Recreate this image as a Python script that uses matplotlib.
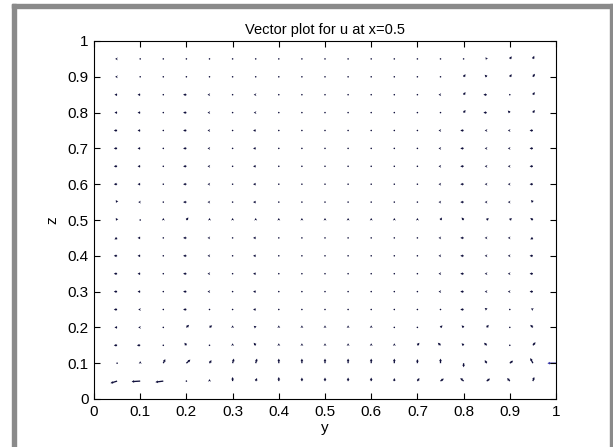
import numpy as np
import matplotlib.pyplot as plt
from matplotlib.patches import Rectangle

plt.rcParams['font.family'] = ['Liberation Sans', 'DejaVu Sans']

# Сетка точек (y, z)
y_pts = [0.05, 0.10, 0.15, 0.20, 0.25, 0.30, 0.35, 0.40, 0.45, 0.50,
         0.55, 0.60, 0.65, 0.70, 0.75, 0.80, 0.85, 0.90, 0.95]
z_pts = [0.05, 0.10, 0.15, 0.20, 0.25, 0.30, 0.35, 0.40, 0.45, 0.50,
         0.55, 0.60, 0.65, 0.70, 0.75, 0.80, 0.85, 0.90, 0.95]

# Компоненты вектора (в тысячных долях единицы оси), строки снизу вверх по z
U_rows = [
    [-10, -13, -12, 0, 0, 0, 2, 0, 0, 0, 0, 0, 0, 3, 5, -5, 5, -4, 2],     # z=0.05
    [0, 0, 3, 6, 3, 2, 2, 0, 0, 0, 0, 0, 0, 0, 0, 0, -3, 5, -4],           # z=0.10
    [-5, -5, 0, -3, 0, 0, -3, 0, 0, 0, 0, 0, 0, 3, -4, -3, -4, 0, 4],      # z=0.15
    [-4, -3, 0, 4, 4, 0, -3, 0, 0, 0, 0, 0, 0, 0, 3, -3, 3, 0, -4],        # z=0.20
    [-5, -3, 0, -5, 0, 0, -4, 0, 0, 0, 0, 0, 0, 0, 0, -5, -3, 0, -3],      # z=0.25
    [-5, -4, 0, -5, -3, 0, -4, 0, 0, 0, 0, 0, 0, 0, -3, -5, -3, -3, -5],   # z=0.30
    [-5, -4, 0, -5, -3, 0, -4, 0, 0, 0, 0, 0, 0, 0, -3, -5, -3, -3, -5],   # z=0.35
    [-5, -4, 0, -5, -3, 0, -4, 0, 0, 0, 0, 0, 0, 0, -3, -5, -3, -3, -5],   # z=0.40
    [-4, -4, 0, -5, -3, 0, -4, 0, 0, 0, 0, 0, 0, 0, -3, -5, -3, -3, -4],   # z=0.45
    [-2, 0, 0, 3, 0, 0, 0, 0, 0, 0, 0, 0, 0, 0, 2, -3, 3, 3, -4],          # z=0.50
    [-2, -3, 0, -5, -3, 0, -4, 0, 0, 0, 0, 0, 0, 0, -3, -5, -3, -3, -3],   # z=0.55
    [-5, -4, 0, -5, -3, 0, -4, 0, 0, 0, 0, 0, 0, 0, -3, -5, -3, -3, -5],   # z=0.60
    [-5, -4, 0, -5, -3, 0, -4, 0, 0, 0, 0, 0, 0, 0, -3, -5, -3, -3, -5],   # z=0.65
    [-5, -4, 0, -5, -3, 0, -4, 0, 0, 0, 0, 0, 0, 0, -3, -5, -3, -3, -5],   # z=0.70
    [-5, -4, 0, -5, -3, 0, -4, 0, 0, 0, 0, 0, 0, 0, -3, -5, -3, -3, -5],   # z=0.75
    [-4, -4, 0, -5, -3, 0, -3, 0, 0, 0, 0, 0, 0, 0, 0, 3, -5, -3, 3],      # z=0.80
    [-4, -4, 0, -5, -3, 0, -3, 0, 0, 0, 0, 0, 0, 0, -3, 3, -5, 0, 3],      # z=0.85
    [-3, -2, 0, -2, -2, 0, -2, 0, 0, 0, 0, 0, 0, 0, 0, 3, -3, 3, 3],       # z=0.90
    [-3, 0, 0, -2, -2, 0, -2, 0, 0, 0, 0, 0, 0, 0, 0, 0, -2, 3, 2],        # z=0.95
]
V_rows = [
    [-4, -1, -2, 0, 4, 8, 6, 8, 7, 7, 7, 7, 6, 6, 5, 6, 5, 6, 8],          # z=0.05
    [2, 4, 8, 7, 6, 9, 9, 9, 9, 9, 9, 9, 9, 8, 9, -8, 6, 5, 10],           # z=0.10
    [0, 0, 2, 5, 2, 4, 5, 4, 4, 4, 4, 4, 4, 5, 5, 4, 5, 2, 6],             # z=0.15
    [0, 0, 2, 5, 4, 4, 3, 4, 4, 4, 4, 4, 3, 3, 4, 4, 5, 2, 5],             # z=0.20
    [0, 0, 1, 0, 2, 2, 0, 2, 1, 1, 1, 1, 1, 1, 1, 0, 3, 1, 2],             # z=0.25
    [0, 0, 1, 0, 0, 1, 0, 1, 1, 1, 1, 1, 1, 1, 0, 0, 0, 0, 0],             # z=0.30
    [0, 0, 1, 0, 0, 1, 0, 1, 1, 1, 1, 1, 1, 1, 0, 0, 0, 0, 0],             # z=0.35
    [0, 0, 1, 0, 0, 1, 0, 1, 1, 1, 1, 1, 1, 1, 0, 0, 0, 0, 0],             # z=0.40
    [-3, 0, 1, 0, 0, 1, 0, 1, 1, 1, 1, 1, 1, 1, 0, 0, 0, 0, -3],           # z=0.45
    [4, 3, 4, 5, 4, 4, 4, 4, 4, 4, 4, 4, 4, 4, 5, 5, 4, 4, 4],             # z=0.50
    [4, 0, 1, 0, 0, 1, 0, 1, 1, 1, 1, 1, 1, 1, 0, 0, 0, 0, 4],             # z=0.55
    [0, 0, 1, 0, 0, 1, 0, 1, 1, 1, 1, 1, 1, 1, 0, 0, 0, 0, 0],             # z=0.60
    [0, 0, 1, 0, 0, 1, 0, 1, 1, 1, 1, 1, 1, 1, 0, 0, 0, 0, 0],             # z=0.65
    [0, 0, 1, 0, 0, 1, 0, 1, 1, 1, 1, 1, 1, 1, 0, 0, 0, 0, 0],             # z=0.70
    [0, 0, 1, 0, 0, 1, 0, 1, 1, 1, 1, 1, 1, 1, 0, 0, 0, 0, 0],             # z=0.75
    [0, 0, 1, 0, 0, 1, 0, 1, 1, 1, 1, 1, 1, 1, 1, 5, 0, 4, 5],             # z=0.80
    [0, 0, 1, 0, 0, 1, 0, 1, 1, 1, 1, 1, 1, 1, 0, 5, 0, 1, 5],             # z=0.85
    [0, 0, 1, 0, 0, 1, 0, 1, 1, 1, 1, 1, 1, 1, 1, 5, 4, 5, 6],             # z=0.90
    [0, 2, 1, 0, 0, 1, 0, 1, 1, 1, 1, 1, 1, 1, 1, 1, 3, 5, 6],             # z=0.95
]

# Отдельная стрелка на границе y=1
edge_y = [1.0]
edge_z = [0.10]
edge_u = [-13]
edge_v = [0]

title_text = 'Vector plot for u at x=0.5'
xticks = [0, 0.1, 0.2, 0.3, 0.4, 0.5, 0.6, 0.7, 0.8, 0.9, 1]
xtick_labels = ['0', '0.1', '0.2', '0.3', '0.4', '0.5', '0.6', '0.7', '0.8', '0.9', '1']

Y, Z = np.meshgrid(y_pts, z_pts)
U = np.array(U_rows, dtype=float)
V = np.array(V_rows, dtype=float)

fig = plt.figure(figsize=(6.13, 4.47), dpi=100)
ax = fig.add_axes([94 / 613, 48 / 447, 462 / 613, 358 / 447])

qkw = dict(angles='xy', scale_units='xy', scale=700, color='#10103c',
           units='dots', width=1.3, headwidth=2.2, headlength=2, headaxislength=1.8,
           minshaft=0.5, minlength=1.3)
ax.quiver(Y, Z, U, V, **qkw)
ax.quiver(edge_y, edge_z, edge_u, edge_v, **{**qkw, 'color': '#2a2aa0'})

ax.set_xlim(0, 1)
ax.set_ylim(0, 1)
ax.set_xticks(xticks)
ax.set_xticklabels(xtick_labels)
ax.set_yticks(xticks)
ax.set_yticklabels(xtick_labels)
ax.tick_params(direction='in', top=True, right=True, length=4, width=0.8,
               labelsize=11, pad=4)
for s in ax.spines.values():
    s.set_linewidth(0.8)
ax.set_title(title_text, fontsize=10.5, pad=5)
ax.set_xlabel('y', fontsize=11, labelpad=2)
ax.set_ylabel('z', fontsize=11, labelpad=6)

# Серая рамка вокруг рисунка
gray = '#8a8a8a'
fig.patches.append(Rectangle((12 / 613, 0), 4 / 613, 443 / 447, transform=fig.transFigure,
                             color=gray, zorder=0))
fig.patches.append(Rectangle((12 / 613, 439 / 447), 601 / 613, 4 / 447, transform=fig.transFigure,
                             color=gray, zorder=0))
fig.patches.append(Rectangle((610 / 613, 0), 3 / 613, 443 / 447, transform=fig.transFigure,
                             color=gray, zorder=0))

fig.savefig('out.png', dpi=100)
